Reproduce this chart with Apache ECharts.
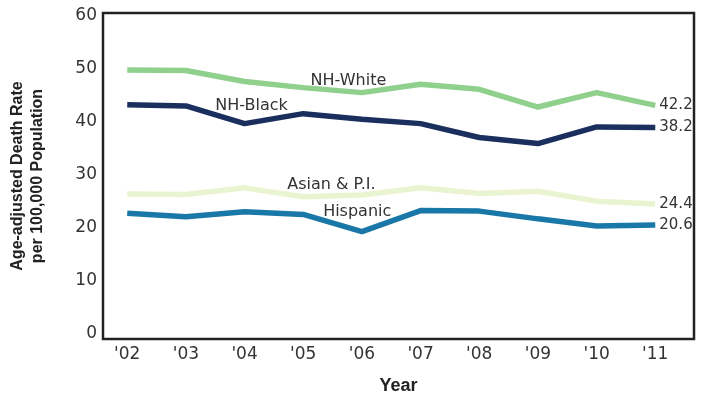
<!DOCTYPE html>
<html><head><meta charset="utf-8">
<script src="https://cdn.jsdelivr.net/npm/echarts@6/dist/echarts.min.js"></script>
<style>html,body{margin:0;padding:0;background:#fff}#c{width:703px;height:400px}</style>
</head><body><div id="c"></div>
<script>
const years = [2002,2003,2004,2005,2006,2007,2008,2009,2010,2011];
const yearLabels = ["'02","'03","'04","'05","'06","'07","'08","'09","'10","'11"];
const yTicks = [0,10,20,30,40,50,60];
const nhWhite  = [48.6,48.5,46.5,45.4,44.5,46.0,45.1,41.9,44.5,42.2];
const nhBlack  = [42.3,42.1,38.9,40.7,39.7,38.9,36.4,35.3,38.3,38.2];
const asianPI  = [26.2,26.1,27.3,25.7,26.0,27.3,26.3,26.7,24.9,24.4];
const hispanic = [22.7,22.1,23.0,22.5,19.4,23.2,23.1,21.7,20.4,20.6];
const seriesNames = ['NH-White','NH-Black','Asian & P.I.','Hispanic'];

const chart = echarts.init(document.getElementById('c'));
const txt = '#333';
function mk(name, vals, color, nameAt) {
  return {
    name: name, type: 'line', yAxisIndex: 0,
    data: years.map((y,i)=>[y, vals[i]]),
    symbol: 'none', lineStyle: {color: color, width: 5.5}, itemStyle:{color:color},
    silent: true, animation: false,
    endLabel: {show: true, distance: 4, fontFamily: 'DejaVu Sans', fontSize: 15, color: txt,
      formatter: p => p.value[1].toFixed(1)},
    markPoint: {symbol: 'circle', symbolSize: 0, animation:false,
      data: [{coord: nameAt, value: name}],
      label: {show: true, position: 'inside', formatter: name, fontFamily: 'DejaVu Sans', fontSize: 16, color: txt}}
  };
}
chart.setOption({
  animation: false,
  grid: {left: 101, right: 9, top: 13, bottom: 58, show: true, borderColor: '#222', borderWidth: 2.5, backgroundColor: 'transparent'},
  xAxis: {type: 'value', min: 2001.587, max: 2011.66,
    axisLine: {show: false}, axisTick: {show: false}, splitLine: {show: false},
    axisLabel: {customValues: years, formatter: v => yearLabels[years.indexOf(Math.round(v))] || '',
      fontFamily: 'DejaVu Sans', fontSize: 17, color: txt, margin: 7},
    name: 'Year', nameLocation: 'middle', nameGap: 38,
    nameTextStyle: {fontFamily: 'Liberation Sans', fontWeight: 'bold', fontSize: 18, color: '#222'}},
  yAxis: [
    {type: 'value', min: 0, max: 58.88, show: false, splitLine:{show:false}},
    {type: 'value', min: -0.93, max: 60.56, position: 'left',
      axisLine: {show: false}, axisTick: {show: false}, splitLine: {show: false},
      axisLabel: {customValues: yTicks, fontFamily: 'DejaVu Sans', fontSize: 17, color: txt, margin: 6},
      name: 'Age-adjusted Death Rate\nper 100,000 Population', nameLocation: 'middle', nameRotate: 90, nameGap: 55,
      nameTextStyle: {fontFamily: 'Liberation Sans', fontWeight: 'bold', fontSize: 16, lineHeight: 20, color: '#222'}}
  ],
  series: [
    mk(seriesNames[0], nhWhite, '#8fd08c', [2005.77, 46.7]),
    mk(seriesNames[1], nhBlack, '#1b2f5f', [2004.12, 42.2]),
    mk(seriesNames[2], asianPI, '#ebf4d0', [2005.48, 27.9]),
    mk(seriesNames[3], hispanic, '#1a78a8', [2005.92, 23.0])
  ]
});
</script></body></html>
